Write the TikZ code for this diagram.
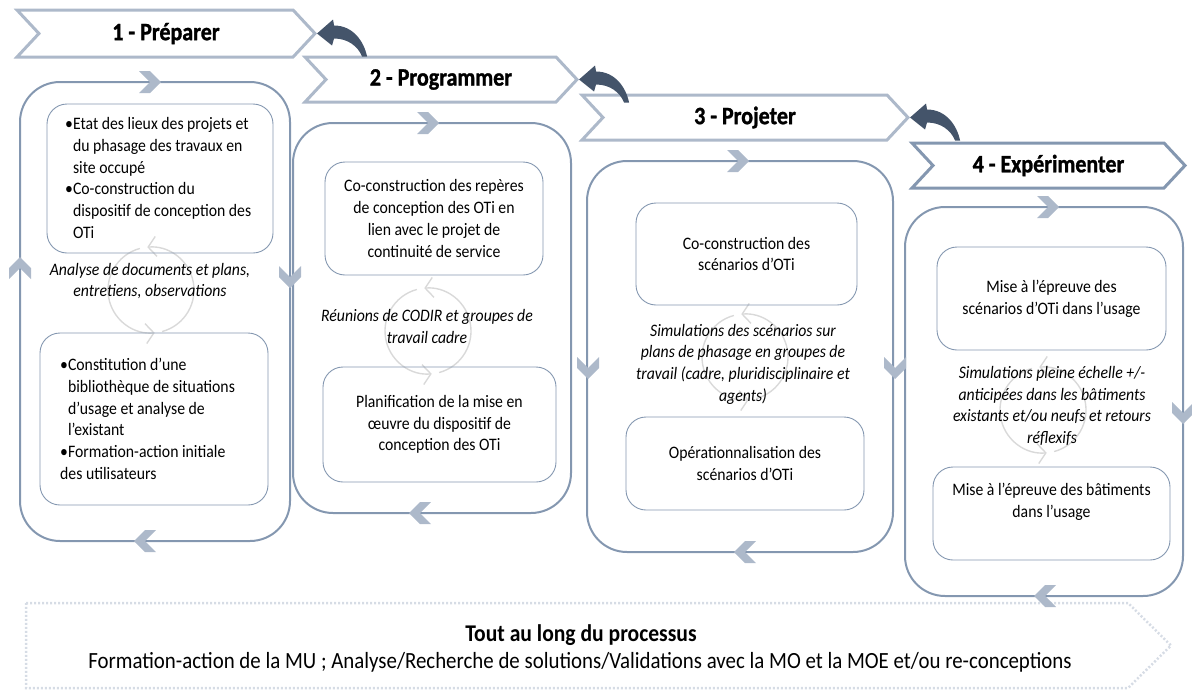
\documentclass[tikz,border=0pt]{standalone}
\usepackage{fontspec}
\setmainfont{Carlito}[FakeStretch=0.9]
\newfontfamily\hdrfont{Carlito}[FakeStretch=0.88,BoldFeatures={FakeBold=1.2}]
\usetikzlibrary{arrows.meta,shapes.symbols}

\definecolor{hdrline}{HTML}{ADB9CA}
\definecolor{loopline}{HTML}{8497B0}
\definecolor{chevfill}{HTML}{ADB9CA}
\definecolor{bentfill}{HTML}{44546A}
\definecolor{cycgray}{HTML}{D9D9D9}
\definecolor{dotline}{HTML}{D6DCE5}

\tikzset{
  hdr/.style={signal, signal to=east, signal from=west, signal pointer angle=94,
    draw=hdrline, line width=3pt, fill=white, inner sep=0pt,
    font=\hdrfont\bfseries\fontsize{25}{28}\selectfont},
  loopframe/.style={draw=loopline, line width=2pt, rounded corners=40pt},
  inbox/.style={draw=loopline, line width=0.9pt, rounded corners=20pt, inner sep=0pt,
    align=center, font=\fontsize{17.5}{21.7}\selectfont},
  txt/.style={inner sep=0pt, font=\fontsize{17.5}{21.7}\selectfont},
  itxt/.style={inner sep=0pt, align=center, font=\fontsize{17.5}{21.7}\selectfont\itshape},
  chev/.style={fill=chevfill, draw=none},
  cyc/.style={draw=cycgray, line width=1.4pt, -{Straight Barb[length=8pt,width=20pt]}},
  dotbox/.style={draw=dotline, line width=2.5pt, dash pattern=on 2pt off 2pt},
}

\begin{document}
\begin{tikzpicture}[x=1pt,y=-1pt]
  \useasboundingbox (0,0) rectangle (1192,691);
  \def\ind{\hphantom{\textbullet}}

  % loops
  \foreach \xa/\ya/\xb/\yb in {20/82/290/541, 293/123/571/513, 587/161/893/552, 905/207/1183/596}
    \draw[loopframe] (\xa,\ya) rectangle (\xb,\yb);

  % all along
  \draw[dotbox] (26,603) -- (1128,603) -- (1171,645.5) -- (1128,688) -- (26,688) -- cycle;
  \node[inner sep=0pt, font=\fontsize{24}{27}\selectfont\bfseries] (tlp) at (581,635)
    {Tout au long du processus};
  \node[inner sep=0pt, font=\fontsize{23.2}{27}\selectfont] (tlq) at (580,662)
    {Formation-action de la MU ; Analyse/Recherche de solutions/Validations avec la MO et la MOE et/ou re-conceptions};

  % cycle marks
  \foreach \x/\y in {151/290, 428/331, 745/357, 1043/410} {
    \draw[cyc, shift={(\x,\y)}] (75:43) arc[start angle=75, end angle=-95, radius=43];
    \draw[cyc, shift={(\x,\y)}] (-105:43) arc[start angle=-105, end angle=-275, radius=43];
  }

  % chevrons on the loops
  \foreach \x/\y/\r in {150/82/0, 428/123/0, 738/161/0, 1048/207/0,
                        145/541/180, 420/513/180, 745/552/180, 1045/596/180,
                        20/268/90, 290/277/-90, 588/368/-90, 895/368/-90, 1183/413/-90}
    \fill[chev, shift={(\x,\y)}, rotate=\r] (-11,-11) -- (0,-11) -- (11,0) -- (0,11) -- (-11,11) -- (0,0) -- cycle;

  % 1
  \node[inbox, minimum width=226, minimum height=149] (b1a) at (160,178.5) {};
  \node[txt, anchor=west, align=left] (t1a) at (65,178) {\textbullet Etat des lieux des projets et\\
    \ind du phasage des travaux en\\ \ind site occupé\\
    \textbullet Co-construction du\\ \ind dispositif de conception des\\ \ind OTi};
  \node[itxt] (i1) at (150,281) {Analyse de documents et plans,\\entretiens, observations};
  \node[inbox, minimum width=228, minimum height=172] (b1b) at (154,419) {};
  \node[txt, anchor=west, align=left] (t1b) at (60,419) {\textbullet Constitution d’une\\
    \ind bibliothèque de situations\\ \ind d’usage et analyse de\\ \ind l’existant\\
    \textbullet Formation-action initiale\\des utilisateurs};

  % 2
  \node[inbox, minimum width=218, minimum height=113] (b2a) at (434,218.5)
    {Co-construction des repères\\de conception des OTi en\\lien avec le projet de\\continuité de service};
  \node[itxt] (i2) at (427,326.5) {Réunions de CODIR et groupes de\\travail cadre};
  \node[inbox, minimum width=233, minimum height=115] (b2b) at (439.5,424.5)
    {Planification de la mise en\\œuvre du dispositif de\\conception des OTi};

  % 3
  \node[inbox, minimum width=221, minimum height=102] (b3a) at (746.5,254)
    {Co-construction des\\scénarios d'OTi};
  \node[itxt] (i3) at (743,364) {Simulations des scénarios sur\\plans de phasage en groupes de\\
    travail (cadre, pluridisciplinaire et\\agents)};
  \node[inbox, minimum width=238, minimum height=93] (b3b) at (745,463.5)
    {Opérationnalisation des\\scénarios d’OTi};

  % 4
  \node[inbox, minimum width=229, minimum height=103] (b4a) at (1051.5,298.5)
    {Mise à l’épreuve des\\scénarios d’OTi dans l’usage};
  \node[itxt] (i4) at (1052,406) {Simulations pleine échelle +/-\\anticipées dans les bâtiments\\
    existants et/ou neufs et retours\\réflexifs};
  \node[inbox, minimum width=237, minimum height=93] (b4b) at (1051.5,513.5) {};
  \node[txt, align=center] (t4b) at (1051.5,501.5) {Mise à l’épreuve des bâtiments\\dans l’usage};

  % steps
  \node[hdr, minimum width=298, minimum height=47] (h1) at (166,33.5) {1 - Préparer};
  \node[hdr, minimum width=272, minimum height=45] (h2) at (441,79.5) {2 - Programmer};
  \node[hdr, minimum width=326, minimum height=45] (h3) at (745,117.5) {3 - Projeter};
  \node[hdr, draw=loopline, minimum width=273, minimum height=45] (h4) at (1048.5,165.5) {4 - Expérimenter};

  \foreach \a in {h1,h2,h3}
    \fill[bentfill, shift={(\a.east)}] (0,0) -- (16,-14) -- (17,-8)
      .. controls (36,-8) and (47,8) .. (50,23) -- (45,23)
      .. controls (41,13) and (31,5) .. (17,5) -- (15,12) -- cycle;
\end{tikzpicture}
\end{document}
